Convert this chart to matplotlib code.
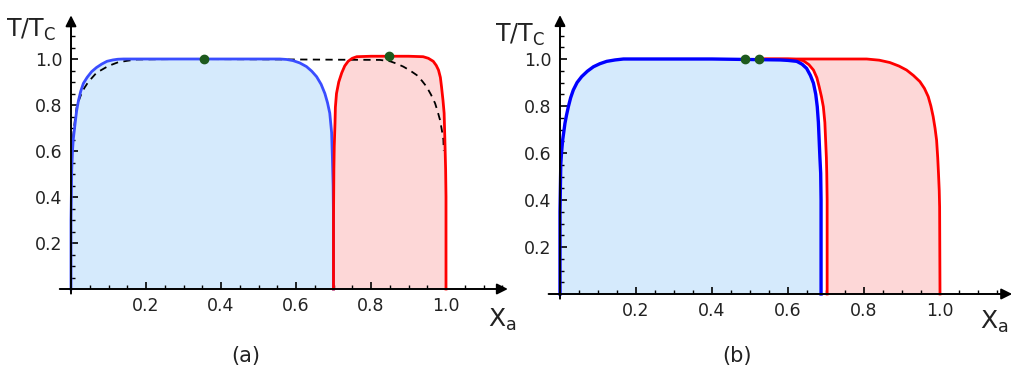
import matplotlib
matplotlib.use("Agg")
import matplotlib.pyplot as plt
import numpy as np

plt.rcParams['font.family'] = ['DejaVu Sans']
plt.rcParams['mathtext.default'] = 'regular'

# ---------------- Panel (a) data ----------------
a_blue_x = [0.0, 0.0, 0.002, 0.004, 0.006, 0.011, 0.015, 0.020, 0.026, 0.033, 0.043, 0.055,
            0.068, 0.082, 0.096, 0.112, 0.125, 0.140, 0.200, 0.400, 0.557, 0.575, 0.592,
            0.610, 0.628, 0.642, 0.655, 0.667, 0.677, 0.684, 0.690, 0.695, 0.697, 0.699,
            0.700, 0.700]
a_blue_y = [0.0, 0.30, 0.52, 0.60, 0.65, 0.72, 0.775, 0.82, 0.86, 0.894, 0.92, 0.945,
            0.963, 0.978, 0.99, 0.996, 0.999, 1.0, 1.0, 1.0, 1.0, 0.998, 0.993,
            0.983, 0.967, 0.947, 0.923, 0.89, 0.85, 0.81, 0.765, 0.68, 0.575, 0.45,
            0.30, 0.0]

a_red_x = [0.700, 0.700, 0.701, 0.702, 0.704, 0.705, 0.708, 0.714, 0.722, 0.730, 0.739,
           0.750, 0.762, 0.800, 0.900, 0.939, 0.953, 0.966, 0.974, 0.980, 0.985, 0.988,
           0.992, 0.995, 0.997, 0.999, 1.000, 1.000]
a_red_y = [0.0, 0.30, 0.52, 0.62, 0.72, 0.79, 0.85, 0.90, 0.94, 0.97, 0.99,
           1.003, 1.010, 1.012, 1.012, 1.010, 1.003, 0.99, 0.972, 0.952, 0.92, 0.88,
           0.82, 0.765, 0.648, 0.52, 0.40, 0.0]

a_dash_x = [0.003, 0.006, 0.010, 0.015, 0.021, 0.028, 0.036, 0.046, 0.057, 0.068, 0.084,
            0.100, 0.126, 0.153, 0.175, 0.300, 0.592, 0.700, 0.824, 0.851, 0.868, 0.886,
            0.904, 0.922, 0.936, 0.948, 0.960, 0.971, 0.978, 0.984, 0.989, 0.993, 0.994]
a_dash_y = [0.60, 0.67, 0.73, 0.79, 0.82, 0.85, 0.875, 0.90, 0.92, 0.94, 0.955,
            0.97, 0.986, 0.993, 0.998, 1.0, 0.998, 0.997, 0.996, 0.99, 0.98, 0.967,
            0.95, 0.93, 0.905, 0.88, 0.845, 0.807, 0.77, 0.735, 0.69, 0.65, 0.60]

a_dots_x = [0.355, 0.847]
a_dots_y = [1.0, 1.012]

# ---------------- Panel (b) data ----------------
b_blue_x = [0.0, 0.0, 0.002, 0.004, 0.007, 0.010, 0.013, 0.017, 0.022, 0.028, 0.035, 0.045,
            0.057, 0.072, 0.088, 0.105, 0.123, 0.145, 0.167, 0.200, 0.400, 0.579, 0.600,
            0.623, 0.637, 0.649, 0.659, 0.667, 0.673, 0.677, 0.680, 0.682, 0.684, 0.686,
            0.687, 0.687]
b_blue_y = [0.0, 0.35, 0.55, 0.60, 0.655, 0.69, 0.726, 0.76, 0.797, 0.835, 0.868, 0.90,
            0.925, 0.948, 0.967, 0.98, 0.99, 0.996, 1.0, 1.0, 1.0, 0.996, 0.994,
            0.99, 0.978, 0.96, 0.93, 0.897, 0.85, 0.797, 0.73, 0.655, 0.58, 0.514,
            0.40, 0.0]

b_red_inner_x = [0.524, 0.600, 0.625, 0.640, 0.655, 0.667, 0.676, 0.682, 0.688, 0.693,
                 0.697, 0.699, 0.701, 0.702, 0.703, 0.703]
b_red_inner_y = [1.0, 1.0, 0.998, 0.993, 0.976, 0.953, 0.92, 0.882, 0.84, 0.797,
                 0.73, 0.655, 0.58, 0.514, 0.40, 0.0]

b_red_outer_x = [0.524, 0.700, 0.807, 0.840, 0.868, 0.892, 0.912, 0.930, 0.947, 0.959,
                 0.969, 0.976, 0.982, 0.987, 0.991, 0.994, 0.996, 0.998, 0.999, 1.000]
b_red_outer_y = [1.0, 1.0, 1.0, 0.995, 0.985, 0.97, 0.953, 0.93, 0.904, 0.875,
                 0.84, 0.80, 0.755, 0.705, 0.655, 0.58, 0.514, 0.44, 0.37, 0.0]

b_dots_x = [0.487, 0.524]
b_dots_y = [1.0, 1.0]

x_major = [0.2, 0.4, 0.6, 0.8, 1.0]
y_major = [0.2, 0.4, 0.6, 0.8, 1.0]
tick_labels = ['0.2', '0.4', '0.6', '0.8', '1.0']

LIGHT_BLUE = '#d5eafc'
PINK = '#fdd7d7'
GREEN = '#1d5a1d'

W, H = 1024, 379
fig = plt.figure(figsize=(W / 100, H / 100), dpi=100)


def make_axes(x0px, y0px, sx, sy, xlim, ylim):
    left = x0px + xlim[0] * sx
    width = (xlim[1] - xlim[0]) * sx
    bottom = (H - y0px) + ylim[0] * sy
    height = (ylim[1] - ylim[0]) * sy
    ax = fig.add_axes([left / W, bottom / H, width / W, height / H])
    ax.set_xlim(*xlim)
    ax.set_ylim(*ylim)
    return ax


def style_axes(ax, xend, yend):
    for s in ['top', 'right']:
        ax.spines[s].set_visible(False)
    ax.spines['left'].set_position(('data', 0))
    ax.spines['bottom'].set_position(('data', 0))
    ax.spines['left'].set_visible(False)
    ax.spines['bottom'].set_visible(False)
    xmin, _ = ax.get_xlim()
    ymin, _ = ax.get_ylim()
    ax.annotate('', xy=(xend, 0), xytext=(xmin, 0),
                arrowprops=dict(arrowstyle='-|>', color='black', lw=1.4,
                                mutation_scale=16, shrinkA=0, shrinkB=0), zorder=10)
    ax.annotate('', xy=(0, yend), xytext=(0, ymin),
                arrowprops=dict(arrowstyle='-|>', color='black', lw=1.4,
                                mutation_scale=16, shrinkA=0, shrinkB=0), zorder=10)
    ax.set_xticks(x_major)
    ax.set_xticklabels(tick_labels)
    ax.set_yticks(y_major)
    ax.set_yticklabels(tick_labels)
    ax.set_xticks(np.arange(0.05, 1.16, 0.05), minor=True)
    ax.set_yticks(np.arange(0.05, 1.16, 0.05), minor=True)
    ax.tick_params(which='major', direction='in', length=5, width=1.2, labelsize=12.5,
                   colors='black', pad=6)
    ax.tick_params(which='minor', direction='in', length=3, width=1.0)
    for t in ax.get_xticklabels() + ax.get_yticklabels():
        t.set_color('#222222')
    ax.patch.set_alpha(0)


# ---------------- Panel (a) ----------------
axa = make_axes(71, 289, 375, 230, (-0.03, 1.2), (-0.02, 1.22))
axa.fill(a_blue_x, a_blue_y, color=LIGHT_BLUE, lw=0, zorder=1)
axa.fill(a_red_x, a_red_y, color=PINK, lw=0, zorder=1)
axa.plot(a_dash_x, a_dash_y, color='black', ls=(0, (4, 3)), lw=1.3, zorder=2)
axa.plot(a_blue_x, a_blue_y, color='#3a4dff', lw=2.0, zorder=3, solid_joinstyle='round')
axa.plot(a_red_x, a_red_y, color='#ff0000', lw=2.0, zorder=3, solid_joinstyle='round')
axa.plot(a_dots_x, a_dots_y, 'o', color=GREEN, ms=6, zorder=5)
style_axes(axa, 1.165, 1.19)

# ---------------- Panel (b) ----------------
axb = make_axes(560, 294, 380, 235, (-0.03, 1.2), (-0.02, 1.21))
b_red_x = b_red_outer_x[::-1] + b_red_inner_x
b_red_y = b_red_outer_y[::-1] + b_red_inner_y
axb.fill(b_red_x, b_red_y, color=PINK, lw=0, zorder=1)
axb.fill(b_blue_x, b_blue_y, color=LIGHT_BLUE, lw=0, zorder=1)
axb.plot(b_red_outer_x, b_red_outer_y, color='#ff0000', lw=2.0, zorder=3, solid_joinstyle='round')
axb.plot(b_red_inner_x, b_red_inner_y, color='#ff0000', lw=2.0, zorder=3, solid_joinstyle='round')
axb.plot(b_blue_x, b_blue_y, color='#0000ff', lw=2.4, zorder=4, solid_joinstyle='round')
axb.plot(b_dots_x, b_dots_y, 'o', color=GREEN, ms=6, zorder=5)
style_axes(axb, 1.19, 1.187)

# Axis labels and panel labels
fig.text(6 / W, 1 - 30 / H, 'T/T$_{C}$', fontsize=17, color='#222222', va='center', ha='left')
fig.text(495 / W, 1 - 35 / H, 'T/T$_{C}$', fontsize=17, color='#222222', va='center', ha='left')
fig.text(488 / W, 1 - 320 / H, 'X$_{a}$', fontsize=18, color='#222222', va='center', ha='left')
fig.text(980 / W, 1 - 322 / H, 'X$_{a}$', fontsize=18, color='#222222', va='center', ha='left')
fig.text(246 / W, 1 - 356 / H, '(a)', fontsize=15, color='#222222', va='center', ha='center')
fig.text(737 / W, 1 - 356 / H, '(b)', fontsize=15, color='#222222', va='center', ha='center')

fig.savefig('out.png', dpi=100)
